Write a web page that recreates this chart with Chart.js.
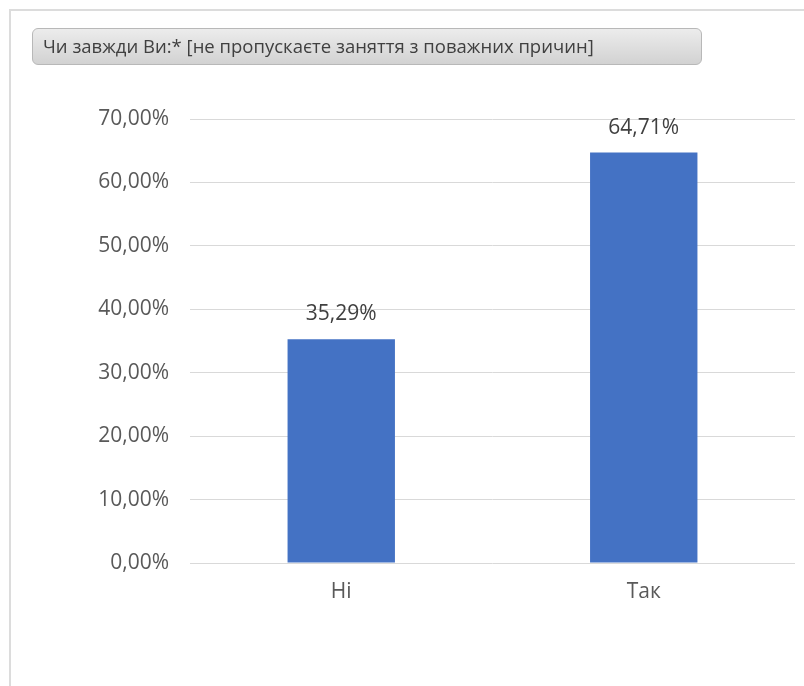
<!DOCTYPE html>
<html>
<head>
<meta charset="utf-8">
<script src="https://cdn.jsdelivr.net/npm/chart.js@4"></script>
<style>
html,body{margin:0;padding:0;background:#fff;width:804px;height:686px;overflow:hidden;}
#frame{position:absolute;left:9px;top:9px;width:820px;height:700px;border:2px solid #dcdcdc;box-sizing:border-box;}
#title{position:absolute;left:32px;top:28px;width:670px;height:37px;box-sizing:border-box;border:1px solid #b8b8b8;border-radius:6px;
background:linear-gradient(#ececec,#d2d2d2);font-family:"Open Sans",sans-serif;font-size:18.5px;color:#404040;line-height:34px;padding-left:10px;white-space:nowrap;}
#wrap{position:absolute;left:0;top:0;width:804px;height:686px;}
</style>
</head>
<body>
<div id="frame"></div>
<div id="wrap"><canvas id="c"></canvas></div>
<div id="title">Чи завжди Ви:* [не пропускаєте заняття з поважних причин]</div>
<script>
const categories = ["Ні", "Так"];
const values = [35.29, 64.71];
const yTicks = [0, 10, 20, 30, 40, 50, 60, 70];

const fmt = v => v.toFixed(2).replace('.', ',') + '%';

const dataLabels = {
  id: 'dataLabels',
  afterDatasetsDraw(chart) {
    const ctx = chart.ctx;
    const meta = chart.getDatasetMeta(0);
    ctx.save();
    ctx.font = '21px "Open Sans", sans-serif';
    ctx.fillStyle = '#404040';
    ctx.textAlign = 'center';
    ctx.textBaseline = 'middle';
    meta.data.forEach((bar, i) => {
      ctx.fillText(fmt(values[i]), bar.x, bar.y - 25);
    });
    ctx.restore();
  }
};

new Chart(document.getElementById('c'), {
  type: 'bar',
  data: {
    labels: categories,
    datasets: [{
      data: values,
      backgroundColor: '#4472C4',
      barPercentage: 0.355,
      categoryPercentage: 1.0
    }]
  },
  options: {
    responsive: true,
    maintainAspectRatio: false,
    animation: false,
    layout: { padding: { left: 0, top: 119, right: 9, bottom: 0 } },
    plugins: { legend: { display: false }, tooltip: { enabled: false } },
    scales: {
      x: {
        grid: { display: false, drawTicks: false },
        border: { display: false },
        ticks: { color: '#595959', font: { family: '"Open Sans", sans-serif', size: 21 }, padding: 16 },
        afterFit(s) { s.height = 123; }
      },
      y: {
        min: 0, max: 70,
        afterBuildTicks(s) { s.ticks = yTicks.map(v => ({ value: v })); },
        grid: { color: '#d9d9d9', lineWidth: 1, drawTicks: false },
        border: { display: false },
        ticks: { color: '#595959', font: { family: '"Open Sans", sans-serif', size: 21 }, padding: 21,
          callback: v => fmt(v) },
        afterFit(s) { s.width = 190; }
      }
    }
  },
  plugins: [dataLabels]
});
</script>
</body>
</html>
